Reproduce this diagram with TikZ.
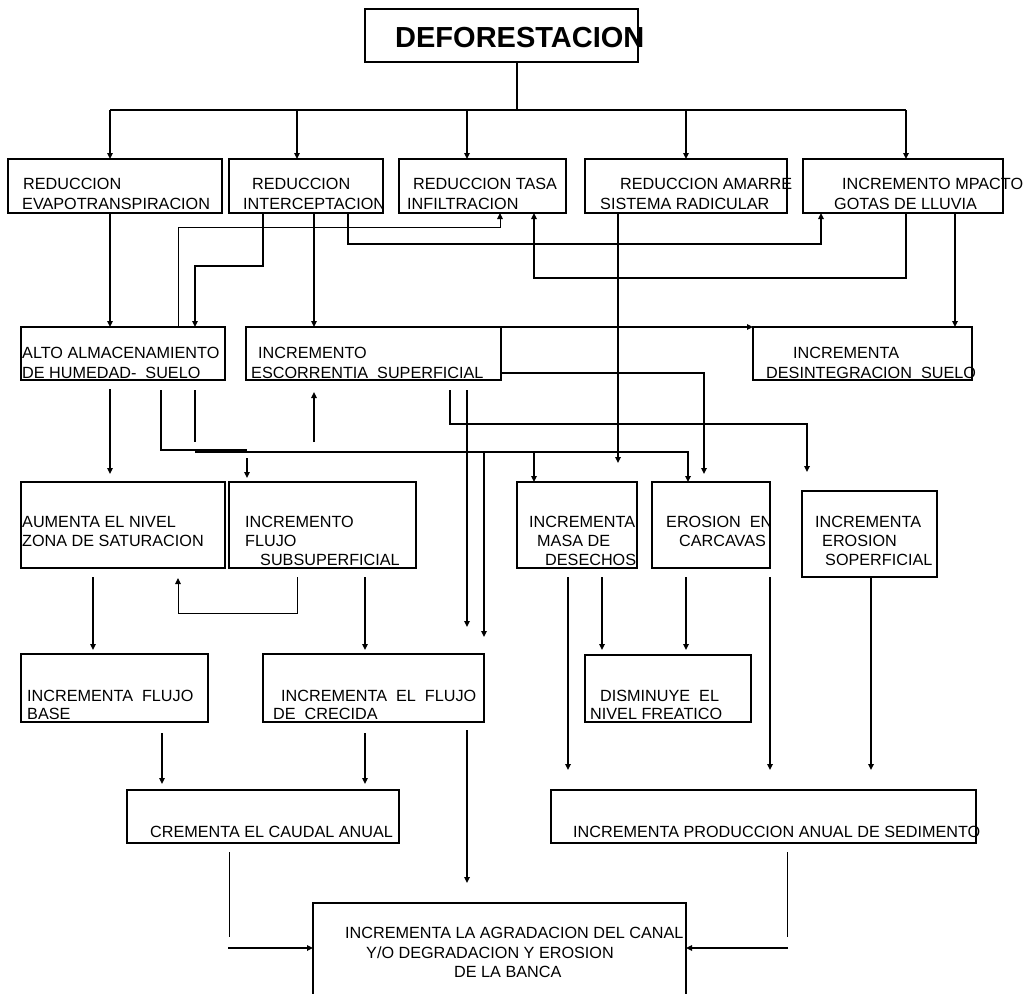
\documentclass[tikz,border=0pt]{standalone}
\usepackage{fontspec}
\setmainfont{Liberation Sans}
\usetikzlibrary{arrows.meta}
\begin{document}
\begin{tikzpicture}[x=1pt,y=-1pt,
  box/.style={draw, line width=1.3pt, inner sep=0pt, outer sep=0pt, anchor=north west},
  txt/.style={anchor=base west, inner sep=0pt, font=\fontsize{16.2}{19}\selectfont},
  ttl/.style={anchor=base west, inner sep=0pt, font=\bfseries\fontsize{29}{33}\selectfont},
  ln/.style={line width=1.5pt},
  lnthin/.style={line width=1pt},
  arr/.style={ln, -{Triangle[length=6pt,width=5.5pt]}},
  arrthin/.style={lnthin, -{Triangle[length=6pt,width=5.5pt]}},
]
\useasboundingbox (0,0) rectangle (1027,993);
\clip (0,0) rectangle (1027,993);
\fill[white] (0,0) rectangle (1027,993);

% ---------- boxes ----------
\node[box, minimum width=273pt, minimum height=53pt] (title) at (365,9) {};
\node[box, minimum width=214pt, minimum height=54pt] (b1) at (8,159) {};
\node[box, minimum width=154pt, minimum height=54pt] (b2) at (229,159) {};
\node[box, minimum width=167pt, minimum height=54pt] (b3) at (399,159) {};
\node[box, minimum width=202pt, minimum height=54pt] (b4) at (585,159) {};
\node[box, minimum width=200pt, minimum height=54pt] (b5) at (803,159) {};
\node[box, minimum width=204pt, minimum height=53pt] (b6) at (21,327) {};
\node[box, minimum width=255pt, minimum height=53pt] (b7) at (246,327) {};
\node[box, minimum width=219pt, minimum height=53pt] (b8) at (753,327) {};
\node[box, minimum width=204pt, minimum height=86pt] (b9) at (21,482) {};
\node[box, minimum width=187pt, minimum height=86pt] (b10) at (229,482) {};
\node[box, minimum width=120pt, minimum height=86pt] (b11) at (517,482) {};
\node[box, minimum width=118pt, minimum height=86pt] (b12) at (652,482) {};
\node[box, minimum width=135pt, minimum height=86pt] (b13) at (802,491) {};
\node[box, minimum width=187pt, minimum height=68pt] (b14) at (21,654) {};
\node[box, minimum width=221pt, minimum height=68pt] (b15) at (263,654) {};
\node[box, minimum width=166pt, minimum height=67pt] (b16) at (585,655) {};
\node[box, minimum width=272pt, minimum height=53pt] (b17) at (127,790) {};
\node[box, minimum width=425pt, minimum height=53pt] (b18) at (551,790) {};
\node[box, minimum width=373pt, minimum height=120pt] (b19) at (313,903) {};

% ---------- texts ----------
\node[ttl] (t0) at (395,47) {DEFORESTACION};
\node[txt] (t1a) at (23,189) {REDUCCION};
\node[txt] (t1b) at (22,209) {EVAPOTRANSPIRACION};
\node[txt] (t2a) at (252,189) {REDUCCION};
\node[txt] (t2b) at (243,209) {INTERCEPTACION};
\node[txt] (t3a) at (413,189) {REDUCCION TASA};
\node[txt] (t3b) at (407,209) {INFILTRACION};
\node[txt] (t4a) at (620,189) {REDUCCION AMARRE};
\node[txt] (t4b) at (600,209) {SISTEMA RADICULAR};
\node[txt] (t5a) at (842,189) {INCREMENTO MPACTO};
\node[txt] (t5b) at (834,209) {GOTAS DE LLUVIA};
\node[txt] (t6a) at (22,358) {ALTO ALMACENAMIENTO};
\node[txt] (t6b) at (22,378) {DE HUMEDAD-\ \ SUELO};
\node[txt] (t7a) at (258,358) {INCREMENTO};
\node[txt] (t7b) at (251,378) {ESCORRENTIA\ \ SUPERFICIAL};
\node[txt] (t8a) at (793,358) {INCREMENTA};
\node[txt] (t8b) at (766,378) {DESINTEGRACION\ \ SUELO};
\node[txt] (t9a) at (22,527) {AUMENTA EL NIVEL};
\node[txt] (t9b) at (22,546) {ZONA DE SATURACION};
\node[txt] (t10a) at (245,527) {INCREMENTO};
\node[txt] (t10b) at (245,546) {FLUJO};
\node[txt] (t10c) at (260,565) {SUBSUPERFICIAL};
\node[txt] (t11a) at (529,527) {INCREMENTA};
\node[txt] (t11b) at (537,546) {MASA DE};
\node[txt] (t11c) at (545,565) {DESECHOS};
\node[txt] (t12a) at (666,527) {EROSION\ \ EN};
\node[txt] (t12b) at (679,546) {CARCAVAS};
\node[txt] (t13a) at (815,527) {INCREMENTA};
\node[txt] (t13b) at (822,546) {EROSION};
\node[txt] (t13c) at (825,565) {SOPERFICIAL};
\node[txt] (t14a) at (27,701) {INCREMENTA\ \ FLUJO};
\node[txt] (t14b) at (27,719) {BASE};
\node[txt] (t15a) at (281,701) {INCREMENTA\ \ EL\ \ FLUJO};
\node[txt] (t15b) at (273,719) {DE\ \ CRECIDA};
\node[txt] (t16a) at (600,701) {DISMINUYE\ \ EL};
\node[txt] (t16b) at (590,719) {NIVEL FREATICO};
\node[txt] (t17a) at (150,837) {CREMENTA EL CAUDAL ANUAL};
\node[txt] (t18a) at (573,837) {INCREMENTA PRODUCCION ANUAL DE SEDIMENTO};
\node[txt] (t19a) at (345,938) {INCREMENTA LA AGRADACION DEL CANAL};
\node[txt] (t19b) at (366,958) {Y/O DEGRADACION Y EROSION};
\node[txt] (t19c) at (454,977) {DE LA BANCA};

% ---------- free ends of connectors ----------
\coordinate (hub) at (517,110);
\coordinate (fB4) at (618,463);
\coordinate (fB12) at (704,474);
\coordinate (fB13) at (807,472);
\coordinate (fB15a) at (467,627);
\coordinate (fB15b) at (484,637);
\coordinate (fB9) at (110,474);
\coordinate (fB10) at (247,478);
\coordinate (fB7) at (314,392);
\coordinate (fB9up) at (178,578);
\coordinate (fB19) at (467,883);

% ---------- DEFORESTACION to the first row ----------
\draw[ln] (517,0 |- title.south) -- (hub);
\draw[ln] (110,110) -- (906,110);
\foreach \x/\n in {110/b1,297/b2,467/b3,686/b4,906/b5}
  \draw[arr] (\x,110) -- (\x,0 |- \n.north);

% ---------- first row to the second row ----------
\draw[arr] (110,0 |- b1.south) -- (110,0 |- b6.north);
\draw[arr] (314,0 |- b2.south) -- (314,0 |- b7.north);
\draw[arr] (263,0 |- b2.south) |- (195,266) -- (195,0 |- b6.north);
\draw[arrthin] (178,0 |- b6.north) |- (500,227) -- (500,0 |- b3.south);
\draw[arr] (348,0 |- b2.south) |- (821,244) -- (821,0 |- b5.south);
\draw[arr] (906,0 |- b5.south) |- (534,278) -- (534,0 |- b3.south);
\draw[arr] (618,0 |- b4.south) -- (fB4);
\draw[arr] (955,0 |- b5.south) -- (955,0 |- b8.north);

% ---------- from ESCORRENTIA ----------
\draw[arr] (b7.north east) -- (b8.north west);
\draw[arr] (b7.east |- 0,373) -| (fB12);
\draw[arr] (450,390) |- (807,424) -- (fB13);
\draw[arr] (467,390) -- (fB15a);
\draw[arr] (314,442) -- (fB7);

% ---------- from ALTO ALMACENAMIENTO ----------
\draw[arr] (110,389) -- (fB9);
\draw[ln] (161,390) |- (247,450);
\draw[arr] (247,458) -- (fB10);
\draw[ln] (195,390) -- (195,442);
\draw[arr] (195,452) -| (688,0 |- b12.north);
\draw[arr] (534,452) -- (534,0 |- b11.north);
\draw[arr] (484,452) -- (fB15b);

% ---------- third row downwards ----------
\draw[arrthin] (297,577) |- (178,613) -- (fB9up);
\draw[arr] (93,577) -- (93,650);
\draw[arr] (365,577) -- (365,650);
\draw[arr] (568,577) -- (568,770);
\draw[arr] (602,577) -- (602,650);
\draw[arr] (686,577) -- (686,650);
\draw[arr] (770,577) -- (770,770);
\draw[arr] (871,0 |- b13.south) -- (871,770);

% ---------- fourth row downwards ----------
\draw[arr] (162,733) -- (162,784);
\draw[arr] (365,733) -- (365,784);
\draw[arr] (467,730) -- (fB19);

% ---------- into the channel box ----------
\draw[lnthin] (229,852) -- (229,937);
\draw[arr] (228,948) -- (b19.west |- 0,948);
\draw[lnthin] (787,852) -- (787,937);
\draw[arr] (788,948) -- (b19.east |- 0,948);
\end{tikzpicture}
\end{document}
